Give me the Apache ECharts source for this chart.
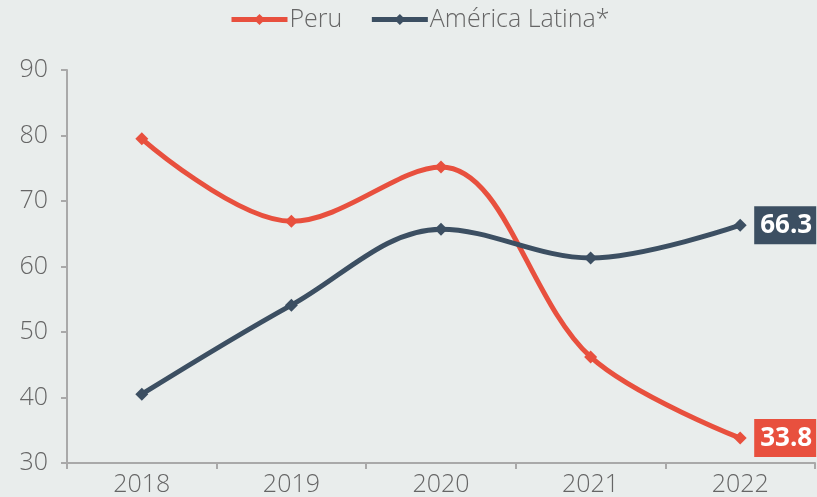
<!DOCTYPE html>
<html>
<head>
<meta charset="utf-8">
<script src="https://cdn.jsdelivr.net/npm/echarts@6/dist/echarts.min.js"></script>
<style>
  html, body { margin: 0; padding: 0; background: #e9edec; }
  #chart { width: 817px; height: 497px; }
</style>
</head>
<body>
<div id="chart"></div>
<script>
  // data
  var years = ['2018', '2019', '2020', '2021', '2022'];
  var peru = [79.5, 66.9, 75.2, 46.2, 33.8];
  var latam = [40.5, 54.1, 65.7, 61.3, 66.3];

  var red = '#e8503e';
  var navy = '#3c4f62';
  var font = 'Open Sans';

  function endLabel(color) {
    return {
      show: true,
      distance: 14,
      formatter: function (p) {
        return p.value.toFixed(1);
      },
      backgroundColor: color,
      color: '#fff',
      fontFamily: font,
      fontWeight: 'bold',
      fontSize: 26,
      padding: [7, 4, 5, 6]
    };
  }

  var myChart = echarts.init(document.getElementById('chart'));
  myChart.setOption({
    backgroundColor: '#e9edec',
    animation: false,
    legend: {
      top: 2,
      left: 224,
      itemWidth: 56,
      itemHeight: 14,
      itemGap: 27,
      lineStyle: { width: 5 },
      textStyle: { fontFamily: font, fontWeight: 300, fontSize: 25, color: '#666', padding: [0, 0, 0, -3] },
      data: ['Peru', 'América Latina*']
    },
    grid: { left: 67, right: 2, top: 70, bottom: 34 },
    xAxis: {
      type: 'category',
      data: years,
      boundaryGap: true,
      axisLine: { lineStyle: { color: '#a9a9a9', width: 2 } },
      axisTick: { show: true, length: 6, lineStyle: { color: '#a9a9a9', width: 2 } },
      axisLabel: { fontFamily: font, fontWeight: 300, fontSize: 25, color: '#666', margin: 9 }
    },
    yAxis: {
      type: 'value',
      min: 30,
      max: 90,
      interval: 10,
      axisLine: { show: true, lineStyle: { color: '#a9a9a9', width: 2 } },
      axisTick: { show: true, length: 6, lineStyle: { color: '#a9a9a9', width: 2 } },
      splitLine: { show: false },
      axisLabel: { fontFamily: font, fontWeight: 300, fontSize: 25, color: '#666', margin: 19 }
    },
    series: [
      {
        name: 'Peru',
        type: 'line',
        data: peru,
        smooth: 0.35,
        symbol: 'diamond',
        symbolSize: 13,
        color: red,
        lineStyle: { width: 5, color: red },
        itemStyle: { color: red },
        endLabel: endLabel(red)
      },
      {
        name: 'América Latina*',
        type: 'line',
        data: latam,
        smooth: 0.35,
        symbol: 'diamond',
        symbolSize: 13,
        color: navy,
        lineStyle: { width: 5, color: navy },
        itemStyle: { color: navy },
        endLabel: endLabel(navy)
      }
    ]
  });
</script>
</body>
</html>
